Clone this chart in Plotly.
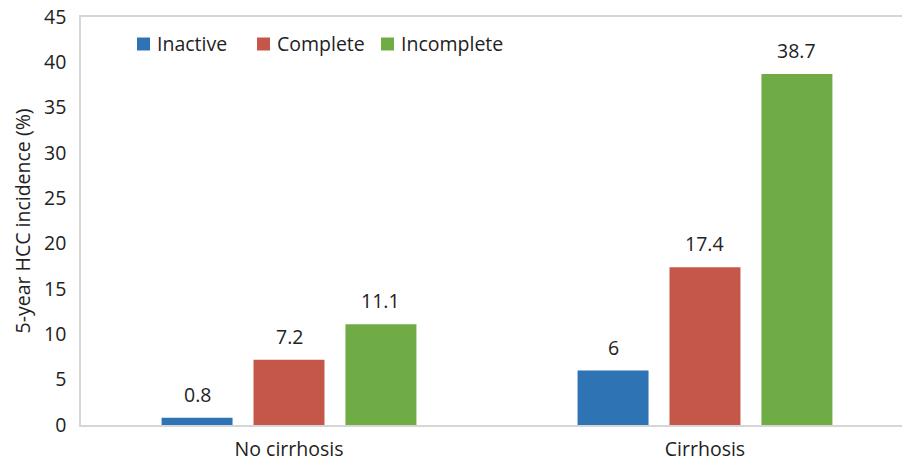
import plotly.graph_objects as go

# 5-year HCC incidence by cirrhosis status and response group
categories = ["No cirrhosis", "Cirrhosis"]
inactive = [0.8, 6]
complete = [7.2, 17.4]
incomplete = [11.1, 38.7]
y_ticks = [0, 5, 10, 15, 20, 25, 30, 35, 40, 45]

series_names = ["Inactive", "Complete", "Incomplete"]
series_values = [inactive, complete, incomplete]
series_colors = ["#2E74B5", "#C5574A", "#6FAC46"]

FONT = "Open Sans, Liberation Sans, sans-serif"
TEXT_COLOR = "#222222"
FS = 19.5

# plot-area geometry in pixels (used to place the hand-drawn legend)
W, H = 902, 463
ML, MR, MT, MB = 81, 0, 17, 38
PW, PH = W - ML - MR, H - MT - MB


def px_to_paper_x(px):
    return (px - ML) / PW


def px_to_paper_y(py):
    return (H - MB - py) / PH


fig = go.Figure()
for name, vals, color in zip(series_names, series_values, series_colors):
    fig.add_trace(go.Bar(
        name=name,
        x=categories,
        y=vals,
        offsetgroup=name,
        marker=dict(color=color, line=dict(width=0)),
        showlegend=False,
    ))

# value labels above each bar, offset the same way as the bars
n = len(series_names)
group_width = 1 - 0.337
slot = group_width / n
for i, (name, vals) in enumerate(zip(series_names, series_values)):
    offset = -group_width / 2 + slot * (i + 0.5)
    for ci, v in enumerate(vals):
        fig.add_annotation(
            x=ci + offset, y=v, xref="x", yref="y",
            text=f"{v:g}", showarrow=False,
            yanchor="bottom", yshift=8,
            font=dict(size=FS, color=TEXT_COLOR, family=FONT),
        )

# legend row: coloured square followed by the series name
legend_text_x = [155, 275, 399]
legend_y = 44
for name, color, tx in zip(series_names, series_colors, legend_text_x):
    fig.add_shape(
        type="rect", xref="paper", yref="paper",
        x0=px_to_paper_x(tx - 18), x1=px_to_paper_x(tx - 5),
        y0=px_to_paper_y(legend_y + 6.5), y1=px_to_paper_y(legend_y - 6.5),
        fillcolor=color, line=dict(width=0),
    )
    fig.add_annotation(
        x=px_to_paper_x(tx), y=px_to_paper_y(legend_y),
        xref="paper", yref="paper", xanchor="left", yanchor="middle",
        text=name, showarrow=False,
        font=dict(size=FS, color=TEXT_COLOR, family=FONT),
    )

fig.update_layout(
    width=W,
    height=H,
    margin=dict(l=ML, r=MR, t=MT, b=MB),
    paper_bgcolor="white",
    plot_bgcolor="white",
    barmode="group",
    bargap=0.337,
    bargroupgap=0.228,
    font=dict(family=FONT, size=FS, color=TEXT_COLOR),
    showlegend=False,
    xaxis=dict(
        type="category",
        range=[-0.5, 1.4736],
        showline=True,
        linecolor="#D6D6D6",
        linewidth=1.5,
        mirror=True,
        ticks="",
        showgrid=False,
        tickfont=dict(size=FS),
        ticklabelstandoff=6,
        automargin=False,
    ),
    yaxis=dict(
        range=[0, 45],
        tickvals=y_ticks,
        showline=True,
        linecolor="#D6D6D6",
        linewidth=1.5,
        showgrid=False,
        zeroline=False,
        ticks="",
        tickfont=dict(size=FS),
        ticklabelstandoff=9,
        automargin=False,
        title=dict(text="5-year HCC incidence (%)", font=dict(size=FS), standoff=8),
    ),
)

fig.write_html("out.html")
